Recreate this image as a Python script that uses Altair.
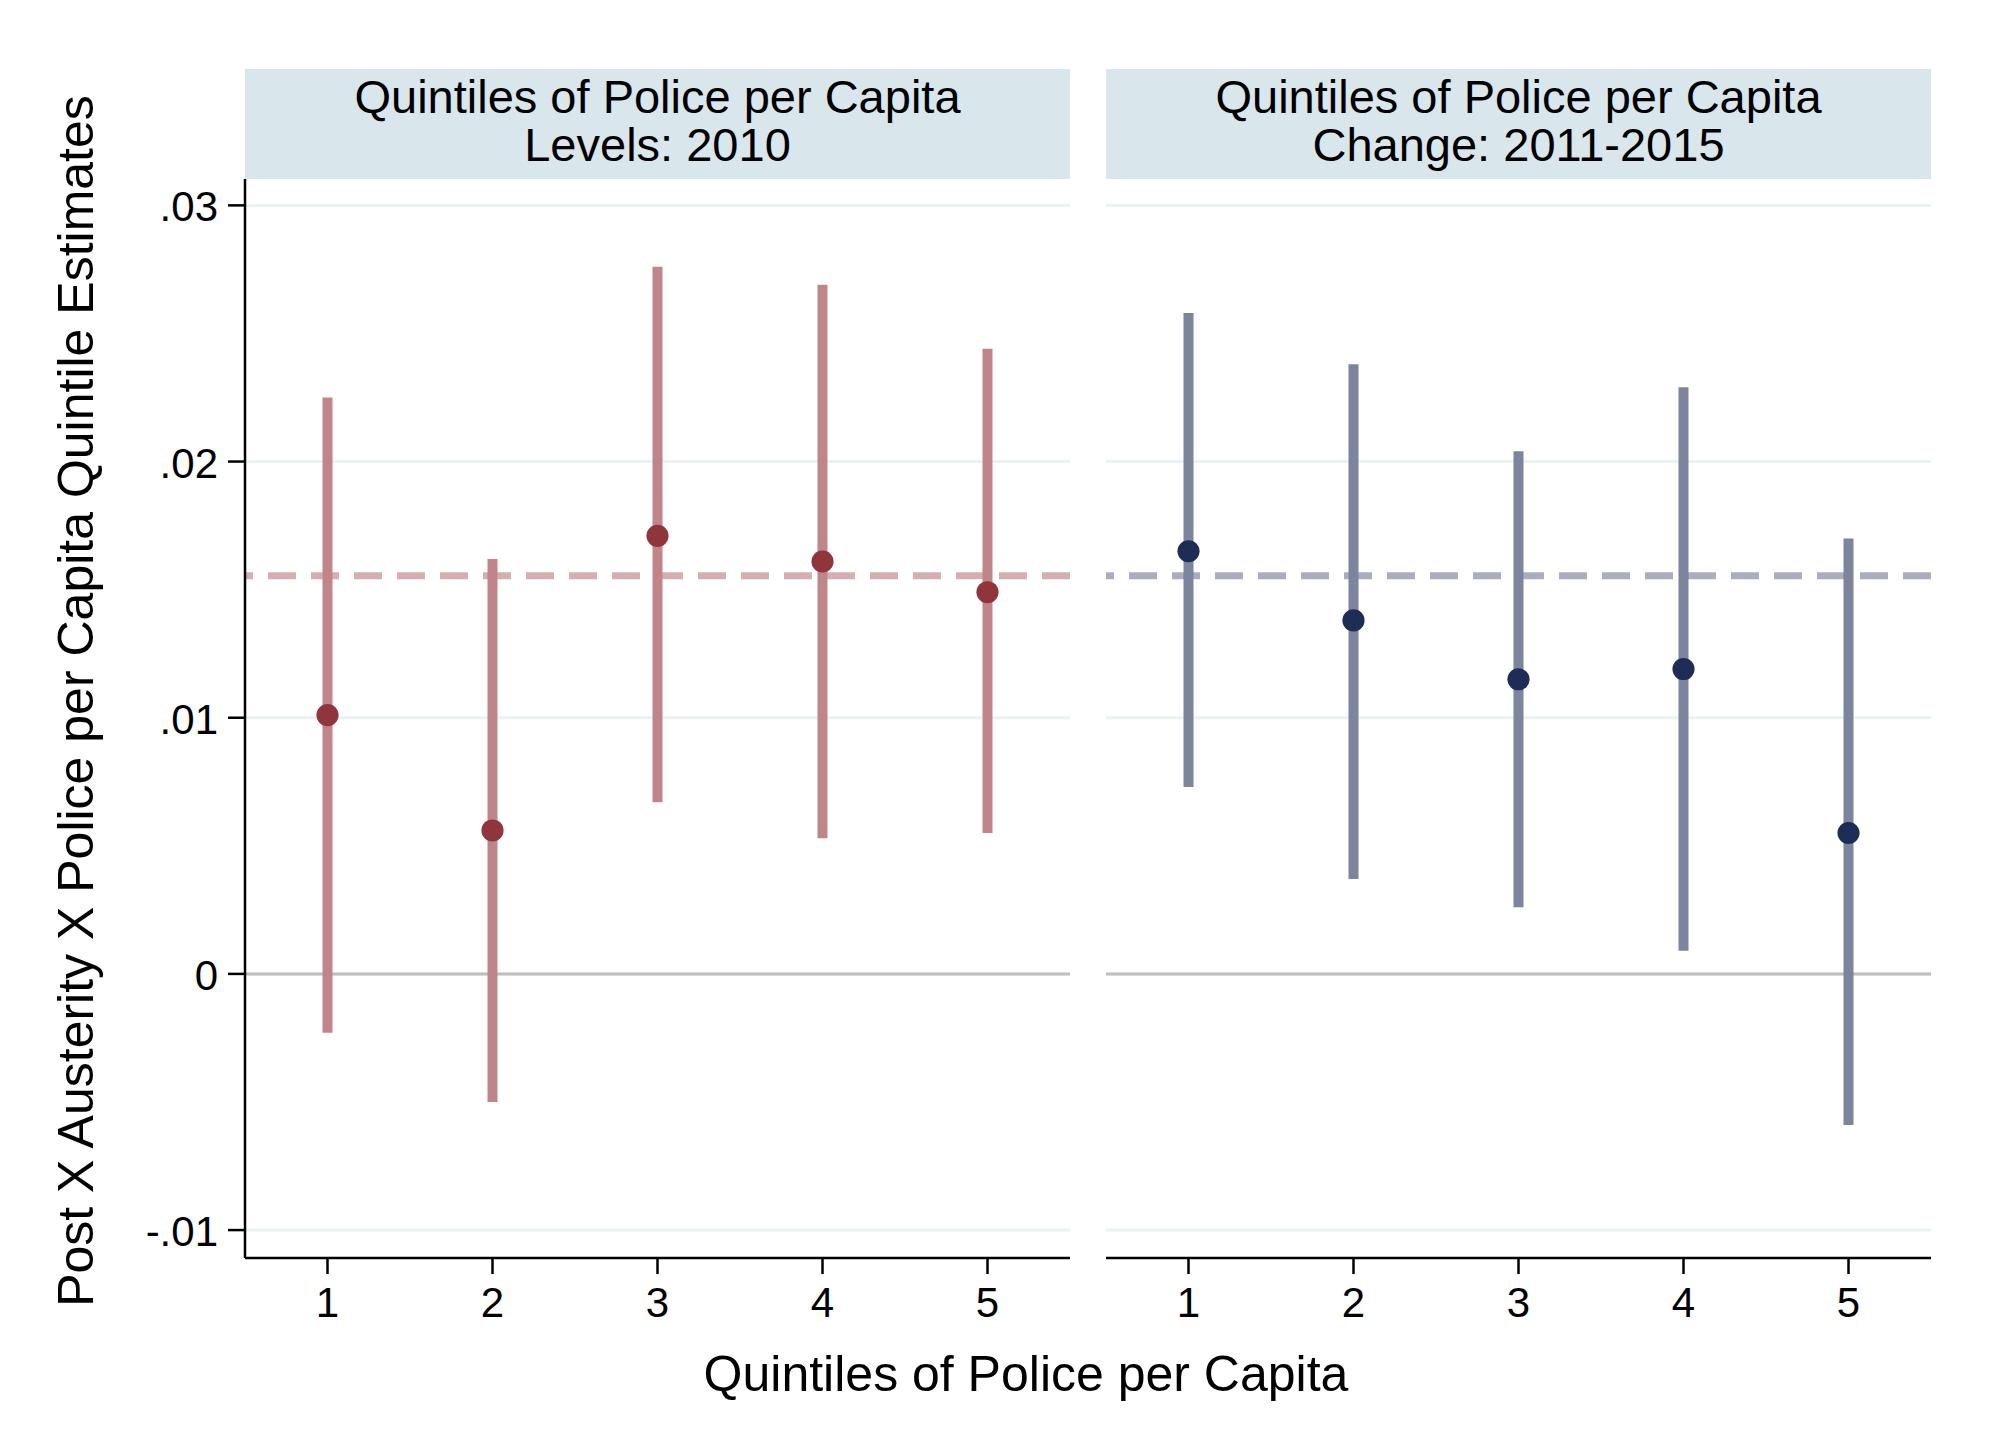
import altair as alt
import pandas as pd

# ---- data ----
quintiles = [1, 2, 3, 4, 5]

levels_est = [0.0101, 0.0056, 0.0171, 0.0161, 0.0149]
levels_lo = [-0.0023, -0.0050, 0.0067, 0.0053, 0.0055]
levels_hi = [0.0225, 0.0162, 0.0276, 0.0269, 0.0244]

change_est = [0.0165, 0.0138, 0.0115, 0.0119, 0.0055]
change_lo = [0.0073, 0.0037, 0.0026, 0.0009, -0.0059]
change_hi = [0.0258, 0.0238, 0.0204, 0.0229, 0.0170]

avg_estimate = [0.01554]
zero_line = [0.0]

y_ticks = [-0.01, 0.0, 0.01, 0.02, 0.03]
y_tick_labels = ["-.01", "0", ".01", ".02", ".03"]
x_tick_labels = ["1", "2", "3", "4", "5"]
header_line1 = ["Quintiles of Police per Capita", "Quintiles of Police per Capita"]
header_line2 = ["Levels: 2010", "Change: 2011-2015"]
y_title = "Post X Austerity X Police per Capita Quintile Estimates"
x_title = "Quintiles of Police per Capita"

FONT = "Liberation Sans"
W = 825          # panel width
PH = 1079        # plot region height
HH = 110         # header strip height
H = PH + HH      # total panel height
PX_PER_UNIT = 25620.0
Y_BOTTOM = -0.01109
Y_TOP = 0.03103 + HH / PX_PER_UNIT
X_DOMAIN = [0.5, 5.5]

one_row = pd.DataFrame({"a": [0]})
ytick_df = pd.DataFrame({"t": y_ticks, "lab": y_tick_labels})
xtick_df = pd.DataFrame({"q": quintiles, "lab": x_tick_labels})


def panel(i, est, lo, hi, pt_color, bar_color, dash_color, left):
    df = pd.DataFrame({"q": quintiles, "v": est, "lo": lo, "hi": hi})
    yscale = alt.Scale(domain=[Y_BOTTOM, Y_TOP], nice=False, zero=False)
    xscale = alt.Scale(domain=X_DOMAIN, nice=False, zero=False)

    def Y(f):
        return alt.Y(f, scale=yscale, axis=None)

    def X(f):
        return alt.X(f, scale=xscale, axis=None)

    grid = alt.Chart(ytick_df).mark_rule(color="#EAF2F3", strokeWidth=3).encode(
        y=Y("t:Q"))

    zero = alt.Chart(pd.DataFrame({"v": zero_line})).mark_rule(
        color="#BEBEBE", strokeWidth=3).encode(y=Y("v:Q"))

    dash = alt.Chart(pd.DataFrame({"v": avg_estimate})).mark_rule(
        color=dash_color, strokeWidth=7, strokeDash=[28, 15]).encode(y=Y("v:Q"))

    bars = alt.Chart(df).mark_rule(color=bar_color, strokeWidth=10).encode(
        x=X("q:Q"), y=Y("lo:Q"), y2="hi:Q")

    pts = alt.Chart(df).mark_circle(color=pt_color, size=490, opacity=1).encode(
        x=X("q:Q"), y=Y("v:Q"))

    # header strip above the plot region (two-line label)
    strip = alt.Chart(one_row).mark_rect(color="#D9E6EB").encode(
        x=alt.value(0), x2=alt.value(W), y=alt.value(0), y2=alt.value(HH))
    head = alt.Chart(one_row).mark_text(fontSize=47, font=FONT, color="black",
                                        baseline="alphabetic", align="center",
                                        lineBreak="\n", lineHeight=47.4,
                                        text=header_line1[i] + "\n" + header_line2[i]).encode(
        x=alt.value(W / 2), y=alt.value(44.3))

    # x axis: line, ticks, labels
    x_line = alt.Chart(one_row).mark_rule(color="black", strokeWidth=2.5).encode(
        x=alt.value(0), x2=alt.value(W), y=alt.value(H))
    x_ticks = alt.Chart(xtick_df).mark_rule(color="black", strokeWidth=2.5).encode(
        x=X("q:Q"), y=alt.value(H), y2=alt.value(H + 16))
    x_labels = alt.Chart(xtick_df).mark_text(fontSize=42, font=FONT, color="black",
                                             baseline="top", align="center").encode(
        x=X("q:Q"), y=alt.value(H + 26), text="lab:N")

    layers = [grid, zero, dash, bars, pts, strip, head, x_line, x_ticks, x_labels]

    if left:
        y_line = alt.Chart(one_row).mark_rule(color="black", strokeWidth=2.5).encode(
            x=alt.value(0), y=alt.value(HH), y2=alt.value(H))
        y_tk = alt.Chart(ytick_df).mark_rule(color="black", strokeWidth=2.5).encode(
            x=alt.value(-17), x2=alt.value(0), y=Y("t:Q"))
        y_labels = alt.Chart(ytick_df).mark_text(fontSize=42, font=FONT, color="black",
                                                 baseline="middle", align="right",
                                                 dy=3).encode(
            x=alt.value(-27), y=Y("t:Q"), text="lab:N")
        y_ttl = alt.Chart(one_row).mark_text(fontSize=50, font=FONT, color="black",
                                             baseline="alphabetic", align="center",
                                             angle=270, text=y_title).encode(
            x=alt.value(-152), y=alt.value(632))
        x_ttl = alt.Chart(one_row).mark_text(fontSize=50, font=FONT, color="black",
                                             baseline="alphabetic", align="center",
                                             text=x_title).encode(
            x=alt.value(781), y=alt.value(H + 133))
        layers += [y_line, y_tk, y_labels, y_ttl, x_ttl]

    return alt.layer(*layers).properties(width=W, height=H)


left = panel(0, levels_est, levels_lo, levels_hi, "#90353B", "#BF8588", "#D5AEB0", True)
right = panel(1, change_est, change_lo, change_hi, "#1E2D55", "#7D849E", "#A9ADBF", False)

chart = alt.hconcat(left, right, spacing=36, bounds="flush").properties(
    padding={"left": 44, "top": 61, "right": 20, "bottom": 20},
    background="white",
).configure_view(stroke=None)

chart.save("out.html", embed_options={"renderer": "svg", "actions": False})
